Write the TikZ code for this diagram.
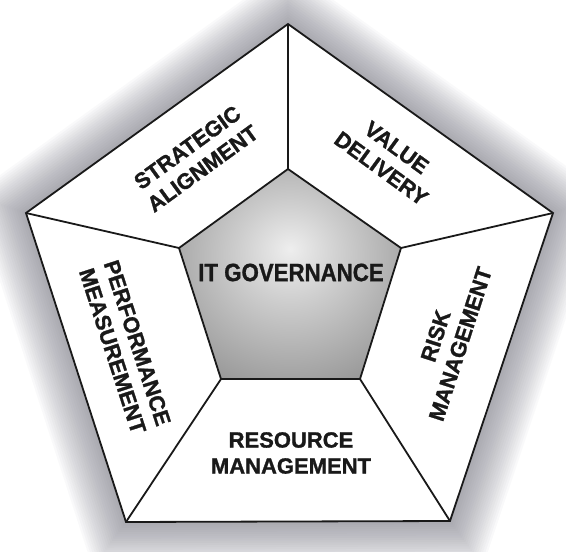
\documentclass[tikz,border=0pt]{standalone}
\usepackage{fontspec}
\setmainfont{Liberation Sans}[BoldFeatures={FakeBold=1.2}]
\usetikzlibrary{calc}
\definecolor{glowcol}{RGB}{105,105,120}
\definecolor{inkcol}{RGB}{25,25,25}
\definecolor{shA}{RGB}{238,238,238}
\definecolor{shB}{RGB}{205,205,205}
\definecolor{shC}{RGB}{138,138,138}
\definecolor{shD}{RGB}{100,100,100}
\pgfdeclareradialshading{govshade}{\pgfpoint{0bp}{6bp}}{color(0bp)=(shA); color(12bp)=(shB); color(38bp)=(shC); color(60bp)=(shD); color(80bp)=(shD)}
\tikzset{
  edge/.style={draw=inkcol, line width=1.8pt, line join=miter},
  lbl/.style={text=inkcol, align=center, font=\fontsize{22}{26}\selectfont\bfseries, inner sep=0pt},
  glowlayer/.style={fill=glowcol, opacity=0.035},
}
\begin{document}
\begin{tikzpicture}[x=1pt,y=-1pt]
\useasboundingbox (0,0) rectangle (566,552);
\fill[white] (0,0) rectangle (566,552);
% outer pentagon
\coordinate (C) at (289,300);
\coordinate (oT) at (288,24);
\coordinate (oR) at (553,213);
\coordinate (oBR) at (450,521);
\coordinate (oBL) at (126,522);
\coordinate (oL) at (26,213);
% inner pentagon
\coordinate (iT) at (288,169);
\coordinate (iR) at (401,248);
\coordinate (iBR) at (360,379);
\coordinate (iBL) at (221,379);
\coordinate (iL) at (179,248);
% glow
\foreach \s in {1.005,1.015,...,1.205} {
  \fill[glowlayer] ($(C)!\s!(oT)$) -- ($(C)!\s!(oR)$) -- ($(C)!\s!(oBR)$) -- ($(C)!\s!(oBL)$) -- ($(C)!\s!(oL)$) -- cycle;
}
\filldraw[edge, fill=white] (oT) -- (oR) -- (oBR) -- (oBL) -- (oL) -- cycle;
\draw[edge] (oT) -- (iT);
\draw[edge] (oR) -- (iR);
\draw[edge] (oBR) -- (iBR);
\draw[edge] (oBL) -- (iBL);
\draw[edge] (oL) -- (iL);
\shade[shading=govshade] (iT) -- (iR) -- (iBR) -- (iBL) -- (iL) -- cycle;
\draw[edge] (iT) -- (iR) -- (iBR) -- (iBL) -- (iL) -- cycle;
% labels
\node[lbl, font=\fontsize{25}{28}\selectfont\bfseries, xscale=0.89] (itg) at (291,272.5) {IT GOVERNANCE};
\node[lbl, rotate=36] (sa) at (195,158) {STRATEGIC\\ALIGNMENT};
\node[lbl, rotate=-36] (vd) at (389,158) {VALUE\\DELIVERY};
\node[lbl, rotate=72] (rm) at (448,340) {RISK\\MANAGEMENT};
\node[lbl] (rsm) at (291,453) {RESOURCE\\MANAGEMENT};
\node[lbl, rotate=-72] (pm) at (125,347) {PERFORMANCE\\MEASUREMENT};
\end{tikzpicture}
\end{document}
